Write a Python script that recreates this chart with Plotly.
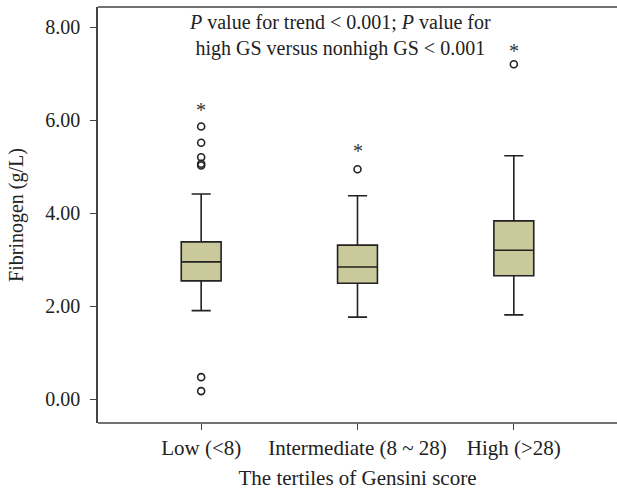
import plotly.graph_objects as go

categories = ["Low (&lt;8)", "Intermediate (8 ~ 28)", "High (&gt;28)"]
q1 = [2.54, 2.49, 2.65]
median = [2.95, 2.84, 3.20]
q3 = [3.38, 3.31, 3.83]
lower_whisker = [1.90, 1.76, 1.81]
upper_whisker = [4.41, 4.37, 5.23]

outlier_group = [0, 0, 0, 0, 0, 0, 0, 1, 2]
outlier_values = [5.86, 5.51, 5.20, 5.06, 5.02, 0.47, 0.17, 4.94, 7.20]

extreme_group = [0, 1, 2]
extreme_values = [6.31, 5.43, 7.58]

y_ticks = [0, 2, 4, 6, 8]

FONT = "Liberation Serif"
FILL = "#c9c99b"
DARK = "#222222"

fig = go.Figure()
fig.add_trace(go.Box(
    x=[0, 1, 2],
    q1=q1, median=median, q3=q3,
    lowerfence=lower_whisker, upperfence=upper_whisker,
    width=0.255, whiskerwidth=0.48,
    fillcolor=FILL,
    line=dict(color=DARK, width=1.6),
    boxpoints=False,
    showlegend=False,
    hoverinfo="skip",
))
fig.add_trace(go.Scatter(
    x=outlier_group, y=outlier_values, mode="markers",
    marker=dict(symbol="circle-open", size=7, color=DARK, line=dict(width=1.6, color=DARK)),
    showlegend=False, hoverinfo="skip",
))
for g, v in zip(extreme_group, extreme_values):
    fig.add_annotation(
        x=g, y=v, xref="x", yref="y", text="*", showarrow=False,
        yshift=-4, font=dict(family=FONT, size=20, color="#333333"),
    )

fig.add_annotation(
    xref="paper", yref="paper", x=0.466, y=0.995, xanchor="center", yanchor="top",
    text="<i>P</i> value for trend &lt; 0.001; <i>P</i> value for<br>high GS versus nonhigh GS &lt; 0.001",
    showarrow=False, align="center",
    font=dict(family=FONT, size=20, color="#222222"),
)

fig.update_layout(
    width=617, height=495,
    margin=dict(l=98, r=0, t=7, b=72, autoexpand=False),
    paper_bgcolor="white", plot_bgcolor="white",
    font=dict(family=FONT, size=20, color="#222222"),
    xaxis=dict(
        range=[-0.66, 2.66], tickvals=[0, 1, 2], ticktext=categories,
        tickfont=dict(size=21),
        showline=False, mirror=False,
        ticks="outside", ticklen=6, tickcolor="#444444", tickwidth=1.2,
        showgrid=False, zeroline=False,
        title=dict(text="The tertiles of Gensini score", standoff=11, font=dict(size=21)),
    ),
    yaxis=dict(
        range=[-0.516, 8.43], tickvals=y_ticks, tickformat=".2f",
        tickfont=dict(size=20), ticklabelstandoff=6,
        showline=True, linecolor="#444444", linewidth=1.5, mirror=False,
        ticks="outside", ticklen=6, tickcolor="#444444", tickwidth=1.2,
        showgrid=False, zeroline=False,
        title=dict(text="Fibrinogen (g/L)", standoff=16, font=dict(size=20)),
    ),
    shapes=[
        dict(type="line", xref="paper", yref="paper", x0=0, x1=1.02, y0=0, y1=0,
             line=dict(color="#444444", width=1.5)),
        dict(type="line", xref="paper", yref="paper", x0=0, x1=1.02, y0=1, y1=1,
             line=dict(color="#444444", width=1.5)),
    ],
)

fig.write_html(
    "out.html",
    config={"displayModeBar": False},
    post_script=(
        "document.documentElement.style.overflow='hidden';"
        "document.body.style.overflow='hidden';"
        "document.body.style.margin='0';"
    ),
)
